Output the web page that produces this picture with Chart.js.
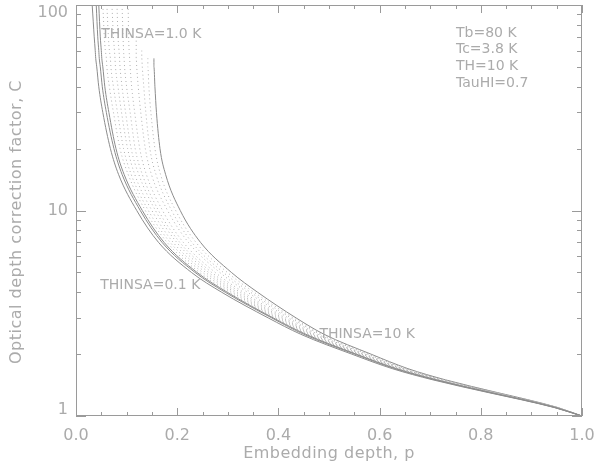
<!DOCTYPE html>
<html>
<head>
<meta charset="utf-8">
<script src="https://cdn.jsdelivr.net/npm/chart.js@4/dist/chart.umd.min.js"></script>
<style>
  html, body { margin: 0; padding: 0; background: #fff; }
  #wrap { width: 597px; height: 465px; }
</style>
</head>
<body>
<div id="wrap"><canvas id="chart" width="597" height="465"></canvas></div>
<script>
// correction factor levels (C) at which the curves were read, top to bottom
const cLevels = [100, 70, 60, 55, 50, 40, 30, 20, 15, 10, 7, 5, 4, 3, 2.5, 2, 1.7, 1.5, 1.3, 1.2, 1.1, 1];

// embedding depth p where each curve crosses those levels (null = curve not there)
const solidA = [0.032, 0.036, 0.038, 0.039, 0.041, 0.045, 0.053, 0.068, 0.084, 0.120, 0.163, 0.228, 0.288, 0.380, 0.444, 0.545, 0.625, 0.705, 0.815, 0.880, 0.945, 1.0];
const solidB = [0.040, 0.043, 0.045, 0.046, 0.048, 0.052, 0.060, 0.075, 0.091, 0.127, 0.170, 0.235, 0.295, 0.387, 0.450, 0.551, 0.630, 0.709, 0.818, 0.882, 0.946, 1.0];
const solidC = [0.045, 0.048, 0.050, 0.051, 0.053, 0.057, 0.065, 0.079, 0.095, 0.131, 0.174, 0.239, 0.299, 0.390, 0.454, 0.554, 0.633, 0.712, 0.820, 0.884, 0.947, 1.0];
const solidD = [null, null, null, 0.154, 0.154, 0.156, 0.159, 0.166, 0.177, 0.206, 0.246, 0.307, 0.359, 0.435, 0.490, 0.583, 0.656, 0.730, 0.833, 0.893, 0.952, 1.0];

const dotted1 = [0.053, 0.056, 0.058, 0.060, 0.061, 0.066, 0.074, 0.087, 0.103, 0.137, 0.180, 0.244, 0.304, 0.394, 0.457, 0.556, 0.635, 0.713, 0.821, 0.885, 0.947, 1.0];
const dotted2 = [0.061, 0.064, 0.066, 0.068, 0.069, 0.074, 0.082, 0.094, 0.109, 0.143, 0.186, 0.250, 0.309, 0.397, 0.460, 0.559, 0.637, 0.715, 0.822, 0.885, 0.948, 1.0];
const dotted3 = [0.071, 0.074, 0.076, 0.077, 0.078, 0.083, 0.090, 0.102, 0.116, 0.150, 0.192, 0.256, 0.314, 0.401, 0.463, 0.561, 0.639, 0.716, 0.823, 0.886, 0.948, 1.0];
const dotted4 = [0.081, 0.083, 0.085, 0.086, 0.087, 0.091, 0.098, 0.109, 0.124, 0.157, 0.199, 0.262, 0.319, 0.405, 0.466, 0.564, 0.641, 0.718, 0.824, 0.887, 0.949, 1.0];
const dotted5 = [0.091, 0.093, 0.094, 0.095, 0.096, 0.100, 0.107, 0.117, 0.131, 0.163, 0.205, 0.268, 0.325, 0.409, 0.469, 0.566, 0.643, 0.720, 0.826, 0.888, 0.949, 1.0];
const dotted6 = [0.103, 0.104, 0.105, 0.106, 0.107, 0.110, 0.116, 0.126, 0.139, 0.171, 0.212, 0.275, 0.331, 0.414, 0.473, 0.569, 0.645, 0.722, 0.827, 0.889, 0.950, 1.0];
const dotted7 = [null, 0.119, 0.119, 0.119, 0.120, 0.123, 0.128, 0.137, 0.149, 0.181, 0.222, 0.284, 0.339, 0.420, 0.478, 0.573, 0.648, 0.724, 0.829, 0.890, 0.950, 1.0];
const dotted8 = [null, null, 0.130, 0.130, 0.131, 0.134, 0.138, 0.146, 0.158, 0.189, 0.229, 0.291, 0.345, 0.425, 0.482, 0.576, 0.651, 0.726, 0.830, 0.891, 0.951, 1.0];
const dotted9 = [null, null, null, 0.142, 0.142, 0.144, 0.148, 0.156, 0.167, 0.197, 0.237, 0.299, 0.352, 0.430, 0.486, 0.580, 0.653, 0.728, 0.831, 0.892, 0.951, 1.0];

// axis ticks
const xMajor = [0, 0.2, 0.4, 0.6, 0.8, 1.0];
const xMinor = [0.05, 0.1, 0.15, 0.25, 0.3, 0.35, 0.45, 0.5, 0.55, 0.65, 0.7, 0.75, 0.85, 0.9, 0.95];
const yMajor = [1, 10, 100];
const yMinor = [2, 3, 4, 5, 6, 7, 8, 9, 20, 30, 40, 50, 60, 70, 80, 90];

// text on the plot
const curveNotes = [
    { text: 'THINSA=1.0 K', p: 0.050, c: 72 },
    { text: 'THINSA=0.1 K', p: 0.048, c: 4.3 },
    { text: 'THINSA=10 K', p: 0.481, c: 2.5 }
];
const paramNotes = ['Tb=80 K', 'Tc=3.8 K', 'TH=10 K', 'TauHI=0.7'];

const axisColor = '#9a9a9a';
const textColor = '#ababab';
const solidColor = '#8c8c8c';
const dotColor = '#b0b0b0';
const fontFamily = "'DejaVu Sans', sans-serif";

function toPoints(ps) {
    const out = [];
    ps.forEach((p, i) => {
        if (p !== null) out.push({ x: p, y: cLevels[i] });
    });
    return out;
}

function solidSet(ps) {
    return { data: toPoints(ps), borderColor: solidColor, borderWidth: 1, pointRadius: 0, cubicInterpolationMode: 'monotone' };
}
function dotSet(ps) {
    return { data: toPoints(ps), borderColor: dotColor, borderWidth: 1, borderDash: [1, 3], pointRadius: 0, cubicInterpolationMode: 'monotone' };
}

function noPad(s) {
    s.paddingLeft = 0; s.paddingRight = 0; s.paddingTop = 0; s.paddingBottom = 0;
}

const frame = {
    id: 'frame',
    afterDatasetsDraw(chart) {
        const { ctx, chartArea: a, scales: { x, y } } = chart;
        ctx.save();
        ctx.strokeStyle = axisColor;
        ctx.lineWidth = 1;
        ctx.strokeRect(a.left + 0.5, a.top + 0.5, a.right - a.left - 1, a.bottom - a.top - 1);
        ctx.beginPath();
        const xt = (v, len) => {
            const px = Math.round(x.getPixelForValue(v)) + 0.5;
            ctx.moveTo(px, a.bottom); ctx.lineTo(px, a.bottom - len);
            ctx.moveTo(px, a.top); ctx.lineTo(px, a.top + len);
        };
        const yt = (v, len) => {
            const py = Math.round(y.getPixelForValue(v)) + 0.5;
            ctx.moveTo(a.left, py); ctx.lineTo(a.left + len, py);
            ctx.moveTo(a.right, py); ctx.lineTo(a.right - len, py);
        };
        xMajor.forEach(v => xt(v, 8));
        xMinor.forEach(v => xt(v, 4));
        yMajor.forEach(v => yt(v, 10));
        yMinor.forEach(v => yt(v, 5));
        ctx.stroke();

        ctx.fillStyle = textColor;
        ctx.textBaseline = 'middle';

        // y tick labels, kept inside the frame height like the original
        ctx.font = '16px ' + fontFamily;
        ctx.textAlign = 'right';
        yMajor.forEach(v => {
            const py = Math.min(Math.max(y.getPixelForValue(v), a.top + 8), a.bottom - 6);
            ctx.fillText(String(v), a.left - 8, py);
        });

        ctx.font = '14px ' + fontFamily;
        ctx.textAlign = 'left';
        curveNotes.forEach(n => {
            ctx.fillText(n.text, x.getPixelForValue(n.p), y.getPixelForValue(n.c));
        });
        paramNotes.forEach((t, i) => {
            ctx.fillText(t, 456, 33 + i * 16.7);
        });

        ctx.letterSpacing = '0.5px';
        ctx.font = '16px ' + fontFamily;
        ctx.textAlign = 'center';
        ctx.fillText('Embedding depth, p', (a.left + a.right) / 2, 454);
        ctx.translate(17, 222);
        ctx.rotate(-Math.PI / 2);
        ctx.fillText('Optical depth correction factor, C', 0, 0);
        ctx.restore();
    }
};

new Chart(document.getElementById('chart'), {
    type: 'line',
    data: {
        datasets: [
            solidSet(solidA), solidSet(solidB), solidSet(solidC),
            dotSet(dotted1), dotSet(dotted2), dotSet(dotted3), dotSet(dotted4), dotSet(dotted5),
            dotSet(dotted6), dotSet(dotted7), dotSet(dotted8), dotSet(dotted9),
            solidSet(solidD)
        ]
    },
    options: {
        responsive: false,
        animation: false,
        devicePixelRatio: 1,
        layout: { padding: { top: 5, right: 15, left: 0, bottom: 0 } },
        plugins: { legend: { display: false }, tooltip: { enabled: false } },
        scales: {
            x: {
                type: 'linear',
                min: 0,
                max: 1,
                afterBuildTicks: s => { s.ticks = xMajor.map(v => ({ value: v })); },
                afterFit: s => { s.height = 49; noPad(s); },
                ticks: {
                    callback: v => v.toFixed(1),
                    color: textColor,
                    font: { family: fontFamily, size: 16 },
                    padding: 10,
                    maxRotation: 0,
                    autoSkip: false
                },
                grid: { display: false, drawTicks: false },
                border: { display: false }
            },
            y: {
                type: 'logarithmic',
                min: 1,
                max: 100,
                afterBuildTicks: s => { s.ticks = yMajor.map(v => ({ value: v })); },
                afterFit: s => { s.width = 76; noPad(s); },
                ticks: { display: false },
                grid: { display: false, drawTicks: false },
                border: { display: false }
            }
        }
    },
    plugins: [frame]
});
</script>
</body>
</html>
